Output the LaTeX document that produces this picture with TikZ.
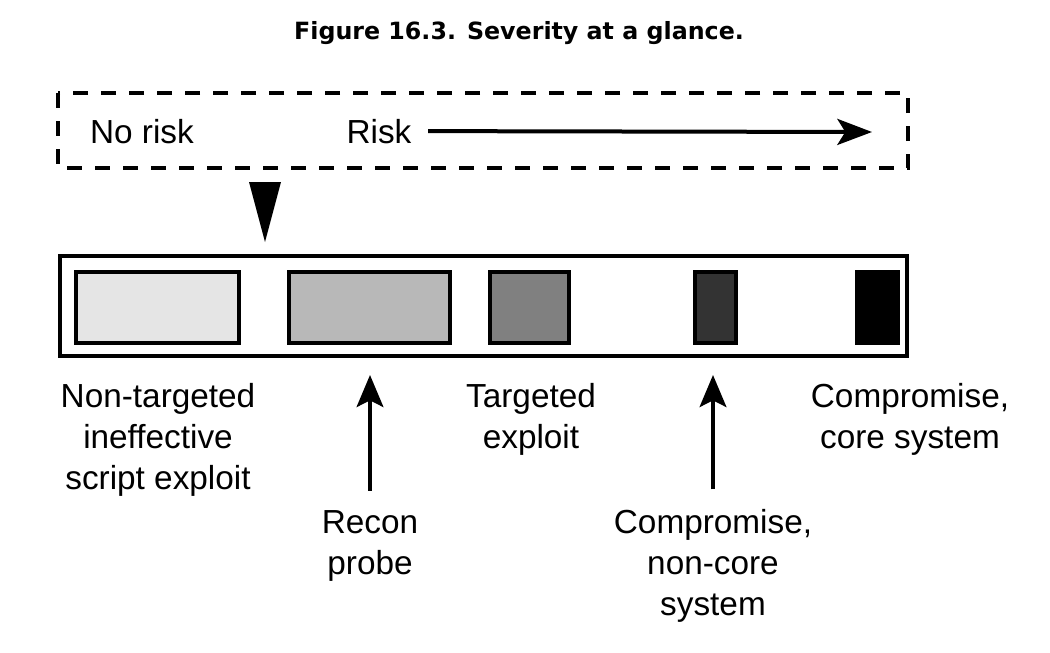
\documentclass[tikz,border=0pt]{standalone}
\usepackage{fontspec}
\setmainfont{Liberation Sans}
\newfontfamily\titlefont{DejaVu Sans}
\usetikzlibrary{arrows.meta}
\definecolor{sevA}{gray}{0.9}
\definecolor{sevB}{gray}{0.72}
\definecolor{sevC}{gray}{0.5}
\definecolor{sevD}{gray}{0.2}
\tikzset{
  lbl/.style={font=\fontsize{25}{30.75}\selectfont, align=center, anchor=base},
  sevbox/.style={draw, line width=3.5pt},
  uparrow/.style={line width=3pt, shorten <=11pt, -{Stealth[length=24pt,width=20pt,inset=5pt]}}
}
\begin{document}
\begin{tikzpicture}[x=0.75pt,y=-0.75pt]
\useasboundingbox (0,0) rectangle (1050,653);
\node[font=\titlefont\bfseries\fontsize{17.8}{21}\selectfont, anchor=base] (title) at (519,40) {Figure 16.3. Severity at a glance.};
\draw[line width=2.6pt, dash pattern=on 11pt off 10pt] (58,93) rectangle (908,168);
\node[lbl] (norisk) at (142,143) {No risk};
\node[lbl] (risk) at (379,143) {Risk};
\coordinate (riskend) at (872,132);
\draw[line width=3pt, shorten <=9pt, -{Stealth[length=26pt,width=19.5pt,inset=6pt]}] (risk.east) -- (riskend);
\fill (249,182) -- (281,182) -- (265,242) -- cycle;
\draw[line width=3.5pt] (60,256) rectangle (907,356);
\foreach \xa/\xb/\c in {76/239/sevA, 289/450/sevB, 490/569/sevC, 695/736/sevD, 857/898/black}
  \draw[sevbox, fill=\c] (\xa,272) rectangle (\xb,343);
\node[lbl] (nontarg) at (158,489) {Non-targeted\\ineffective\\script exploit};
\node[lbl] (targ) at (531,448) {Targeted\\exploit};
\node[lbl] (core) at (910,448) {Compromise,\\core system};
\node[lbl] (recon) at (370,574) {Recon\\probe};
\node[lbl] (noncore) at (713,615) {Compromise,\\non-core\\system};
\coordinate (recontip) at (370,375);
\coordinate (noncoretip) at (713,375);
\draw[uparrow] (recon.north) -- (recontip);
\draw[uparrow] (noncore.north) -- (noncoretip);
\end{tikzpicture}
\end{document}
